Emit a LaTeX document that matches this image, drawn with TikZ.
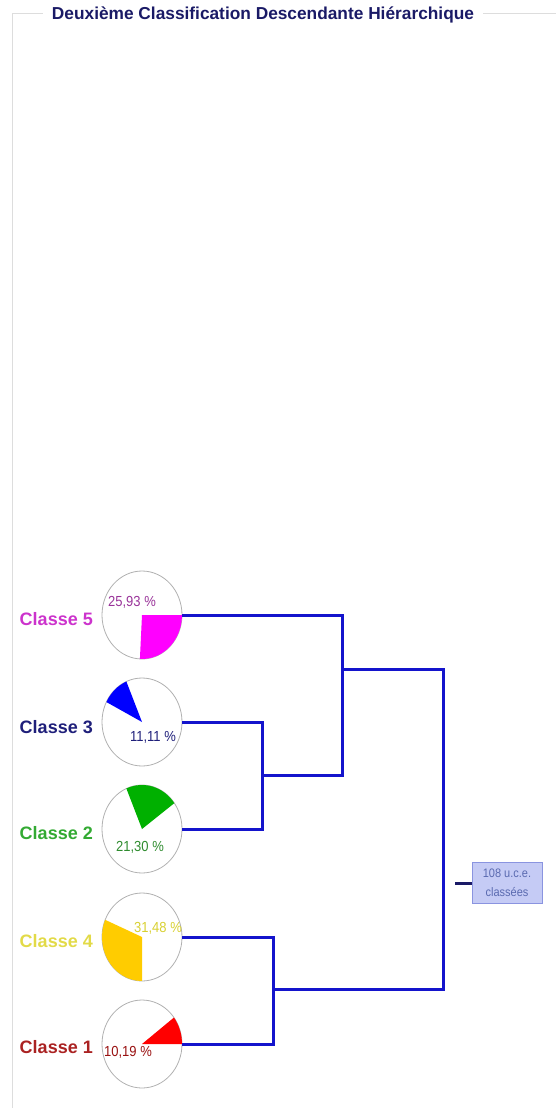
\documentclass[tikz,border=0pt]{standalone}
\usepackage{fontspec}
\usepackage{graphicx}
\setmainfont{Liberation Sans}
\usetikzlibrary{shapes.geometric}
\definecolor{framec}{HTML}{DDDDDD}
\definecolor{titlec}{HTML}{1A1A66}
\definecolor{dendc}{HTML}{1414CC}
\definecolor{circc}{HTML}{B0B0B0}
\definecolor{magL}{HTML}{CC33CC}
\definecolor{magW}{HTML}{FF00FF}
\definecolor{magP}{HTML}{993399}
\definecolor{navL}{HTML}{1F1F7A}
\definecolor{bluW}{HTML}{0000FF}
\definecolor{grnL}{HTML}{33AA33}
\definecolor{grnW}{HTML}{00B000}
\definecolor{grnP}{HTML}{2E8B2E}
\definecolor{yelL}{HTML}{E2DA48}
\definecolor{yelW}{HTML}{FFCC00}
\definecolor{yelP}{HTML}{D8D030}
\definecolor{redL}{HTML}{AA2222}
\definecolor{redW}{HTML}{FF0000}
\definecolor{redP}{HTML}{991111}
\definecolor{boxF}{HTML}{C5CBF5}
\definecolor{boxD}{HTML}{8A94E0}
\definecolor{boxT}{HTML}{5A6AB0}
\newcommand\vst[1]{\scalebox{1}[1.12]{#1}}
\tikzset{
  frameline/.style={draw=framec, line width=1pt},
  dend/.style={draw=dendc, line width=3pt},
  pie/.style={ellipse, draw=circc, line width=0.8pt, minimum width=80pt, minimum height=88pt, inner sep=0pt},
  classlbl/.style={anchor=east, inner sep=0pt, font=\fontsize{18}{20}\selectfont\bfseries},
  pct/.style={inner sep=0pt, font=\fontsize{13}{15}\selectfont},
}
\begin{document}
\begin{tikzpicture}[x=1pt, y=-1pt]
\useasboundingbox (0,0) rectangle (556,1108);
% frame and title
\node[text=titlec, font=\fontsize{17.3}{19}\selectfont\bfseries, inner sep=9pt] (title) at (263,15) {Deuxième Classification Descendante Hiérarchique};
\draw[frameline] (12,1108) -- (12,14) -- (title.west |- 0,14);
\draw[frameline] (title.east |- 0,14) -- (556,14);
% pies
\node[pie] (c5) at (142,615) {};
\node[pie] (c3) at (142,722) {};
\node[pie] (c2) at (142,829) {};
\node[pie] (c4) at (142,937) {};
\node[pie] (c1) at (142,1044) {};
\fill[magW] (c5.center) -- ++(0:40 and 44) arc[start angle=0, end angle=93, x radius=40, y radius=44] -- cycle;
\fill[bluW] (c3.center) -- ++(-153:40 and 44) arc[start angle=-153, end angle=-113, x radius=40, y radius=44] -- cycle;
\fill[grnW] (c2.center) -- ++(-113:40 and 44) arc[start angle=-113, end angle=-36, x radius=40, y radius=44] -- cycle;
\fill[yelW] (c4.center) -- ++(90:40 and 44) arc[start angle=90, end angle=203, x radius=40, y radius=44] -- cycle;
\fill[redW] (c1.center) -- ++(-37:40 and 44) arc[start angle=-37, end angle=0, x radius=40, y radius=44] -- cycle;
% class labels
\node[classlbl, text=magL] (l5) at (93,619) {Classe 5};
\node[classlbl, text=navL] (l3) at (93,727) {Classe 3};
\node[classlbl, text=grnL] (l2) at (93,833) {Classe 2};
\node[classlbl, text=yelL] (l4) at (93,941) {Classe 4};
\node[classlbl, text=redL] (l1) at (93,1047) {Classe 1};
% percentages
\node[pct, text=magP] (p5) at (132,602) {\vst{25,93 \%}};
\node[pct, text=navL] (p3) at (153,737) {\vst{11,11 \%}};
\node[pct, text=grnP] (p2) at (140,847) {\vst{21,30 \%}};
\node[pct, text=yelP] (p4) at (158,928) {\vst{31,48 \%}};
\node[pct, text=redP] (p1) at (128,1052) {\vst{10,19 \%}};
% dendrogram
\coordinate (j32) at (262,775);
\coordinate (j532) at (342,669);
\coordinate (j41) at (273,989);
\coordinate (jroot) at (443,829);
\draw[dend] (c3.east) -| (j32);
\draw[dend] (c2.east) -| (j32);
\draw[dend] (c5.east) -| (j532);
\draw[dend] (j32) -| (j532);
\draw[dend] (c4.east) -| (j41);
\draw[dend] (c1.east) -| (j41);
\draw[dend] (j532) -| (jroot);
\draw[dend] (j41) -| (jroot);
% root box
\node[draw=boxD, fill=boxF, line width=0.8pt, minimum width=70pt, minimum height=41pt, inner sep=2pt, align=center, text=boxT, font=\fontsize{11}{19}\selectfont] (total) at (507,883) {\vst{108 u.c.e.}\\\vst{classées}};
\coordinate (stub) at (455,883);
\draw[draw=titlec, line width=3pt] (stub) -- (total.west);
\end{tikzpicture}
\end{document}
